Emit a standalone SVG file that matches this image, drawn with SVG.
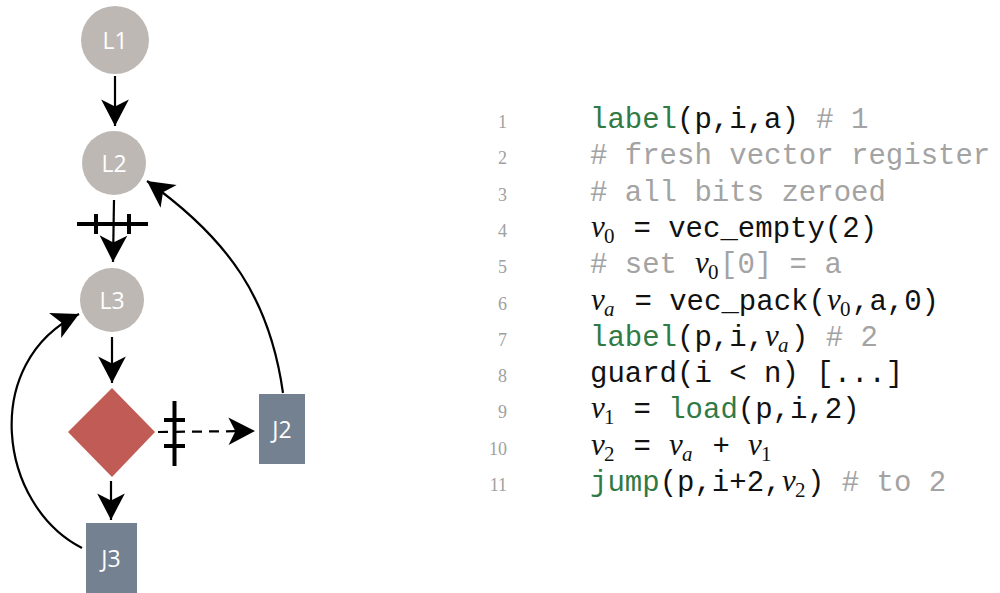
<svg xmlns="http://www.w3.org/2000/svg" width="1000" height="593" viewBox="0 0 1000 593">
  <style>
    .lbl { fill: #ffffff; font-family: "Open Sans", "DejaVu Sans", sans-serif; font-size: 23px; text-anchor: middle; dominant-baseline: central; }
    .edge { fill: none; stroke: #000; stroke-width: 2.2; }
    .bar { fill: none; stroke: #000; stroke-width: 4; }
    .code { font-family: "Liberation Mono", "Courier New", monospace; font-size: 29px; fill: #111; }
    .kw { fill: #2f7a45; }
    .cm { fill: #a3a3a3; }
    .num { font-family: "Liberation Serif", "Times New Roman", serif; font-size: 18px; fill: #a0a0a0; text-anchor: end; }
    .mv { font-family: "Liberation Serif", "Times New Roman", serif; font-style: italic; font-size: 31px; fill: #111; }
    .ms { font-family: "Liberation Serif", "Times New Roman", serif; font-size: 21px; fill: #111; }
    .msi { font-family: "Liberation Serif", "Times New Roman", serif; font-style: italic; font-size: 21px; fill: #111; }
  </style>
  <defs>
    <marker id="arrow" markerUnits="userSpaceOnUse" markerWidth="30" markerHeight="30" viewBox="-24 -13 26 26" refX="0" refY="0" orient="auto">
      <path d="M0,0 L-23,-12 L-17,0 L-23,12 Z" fill="#000"/>
    </marker>
  </defs>

  <rect width="1000" height="593" fill="#ffffff"/>

  <!-- connectors -->
  <g id="connectors">
    <line class="edge" x1="115" y1="76" x2="115" y2="126" marker-end="url(#arrow)"/>
    <line class="edge" x1="114" y1="200" x2="113" y2="262" marker-end="url(#arrow)"/>
    <line class="bar" x1="77" y1="224" x2="148" y2="224"/>
    <line class="bar" x1="96" y1="214" x2="96" y2="234"/>
    <line class="bar" x1="129" y1="214" x2="129" y2="234"/>
    <line class="edge" x1="112" y1="337" x2="112" y2="383" marker-end="url(#arrow)"/>
    <line class="edge" x1="111" y1="481" x2="111" y2="520" marker-end="url(#arrow)"/>
    <line class="edge" x1="158" y1="432" x2="255" y2="431" stroke-dasharray="10 7" marker-end="url(#arrow)"/>
    <line class="bar" x1="174.5" y1="401" x2="174.5" y2="466"/>
    <line class="bar" x1="164" y1="420" x2="185" y2="420"/>
    <line class="bar" x1="164" y1="446" x2="185" y2="446"/>
    <path class="edge" d="M283,393 C270,300 230,240 147,181" marker-end="url(#arrow)"/>
    <path class="edge" d="M82,548 C-2,505 -20,362 79,314" marker-end="url(#arrow)"/>
  </g>

  <!-- nodes -->
  <g id="L1">
    <circle cx="115" cy="40" r="34" fill="#bdb8b4"/>
    <text class="lbl" x="115" y="40">L1</text>
  </g>
  <g id="L2">
    <circle cx="114" cy="163" r="32" fill="#bdb8b4"/>
    <text class="lbl" x="114" y="163">L2</text>
  </g>
  <g id="L3">
    <circle cx="112" cy="300" r="32" fill="#bdb8b4"/>
    <text class="lbl" x="112" y="300">L3</text>
  </g>
  <g id="guard">
    <polygon points="112,388 155,432 112,477 68,432" fill="#c05b55"/>
  </g>
  <g id="J2">
    <rect x="259" y="394" width="46" height="70" fill="#738190"/>
    <text class="lbl" x="282" y="429">J2</text>
  </g>
  <g id="J3">
    <rect x="86" y="523" width="51" height="70" fill="#738190"/>
    <text class="lbl" x="111" y="558">J3</text>
  </g>

  <!-- listing -->
  <g id="listing">
    <text class="num" x="507" y="128">1</text>
    <text class="num" x="507" y="164.3">2</text>
    <text class="num" x="507" y="200.6">3</text>
    <text class="num" x="507" y="236.9">4</text>
    <text class="num" x="507" y="273.2">5</text>
    <text class="num" x="507" y="309.5">6</text>
    <text class="num" x="507" y="345.8">7</text>
    <text class="num" x="507" y="382.1">8</text>
    <text class="num" x="507" y="418.4">9</text>
    <text class="num" x="507" y="454.7">10</text>
    <text class="num" x="507" y="491">11</text>

    <!-- 1 -->
    <text class="code" x="590" y="128" xml:space="preserve"><tspan class="kw">label</tspan>(p,i,a)<tspan class="cm"> # 1</tspan></text>
    <!-- 2 -->
    <text class="code cm" x="590" y="164.3" xml:space="preserve"># fresh vector register</text>
    <!-- 3 -->
    <text class="code cm" x="590" y="200.6" xml:space="preserve"># all bits zeroed</text>
    <!-- 4 -->
    <text class="mv" x="591" y="236.9">v</text><text class="ms" x="604" y="242.9">0</text>
    <text class="code" x="616" y="236.9" xml:space="preserve"> = vec_empty(2)</text>
    <!-- 5 -->
    <text class="code cm" x="590" y="273.2" xml:space="preserve"># set </text>
    <text class="mv" x="695" y="273.2">v</text><text class="ms" x="708" y="279.2">0</text>
    <text class="code cm" x="720" y="273.2" xml:space="preserve">[0] = a</text>
    <!-- 6 -->
    <text class="mv" x="591" y="309.5">v</text><text class="msi" x="604" y="315.5">a</text>
    <text class="code" x="617" y="309.5" xml:space="preserve"> = vec_pack(</text>
    <text class="mv" x="827" y="309.5">v</text><text class="ms" x="840" y="315.5">0</text>
    <text class="code" x="852" y="309.5" xml:space="preserve">,a,0)</text>
    <!-- 7 -->
    <text class="code" x="590" y="345.8" xml:space="preserve"><tspan class="kw">label</tspan>(p,i,</text>
    <text class="mv" x="765" y="345.8">v</text><text class="msi" x="778" y="351.8">a</text>
    <text class="code" x="791" y="345.8" xml:space="preserve">)<tspan class="cm"> # 2</tspan></text>
    <!-- 8 -->
    <text class="code" x="590" y="382.1" xml:space="preserve">guard(i &lt; n) [...]</text>
    <!-- 9 -->
    <text class="mv" x="591" y="418.4">v</text><text class="ms" x="604" y="424.4">1</text>
    <text class="code" x="616" y="418.4" xml:space="preserve"> = <tspan class="kw">load</tspan>(p,i,2)</text>
    <!-- 10 -->
    <text class="mv" x="591" y="454.7">v</text><text class="ms" x="604" y="460.7">2</text>
    <text class="code" x="616" y="454.7" xml:space="preserve"> = </text>
    <text class="mv" x="669" y="454.7">v</text><text class="msi" x="682" y="460.7">a</text>
    <text class="code" x="695" y="454.7" xml:space="preserve"> + </text>
    <text class="mv" x="748" y="454.7">v</text><text class="ms" x="761" y="460.7">1</text>
    <!-- 11 -->
    <text class="code" x="590" y="491" xml:space="preserve"><tspan class="kw">jump</tspan>(p,i+2,</text>
    <text class="mv" x="782" y="491">v</text><text class="ms" x="795" y="497">2</text>
    <text class="code" x="807" y="491" xml:space="preserve">)<tspan class="cm"> # to 2</tspan></text>
  </g>
</svg>
